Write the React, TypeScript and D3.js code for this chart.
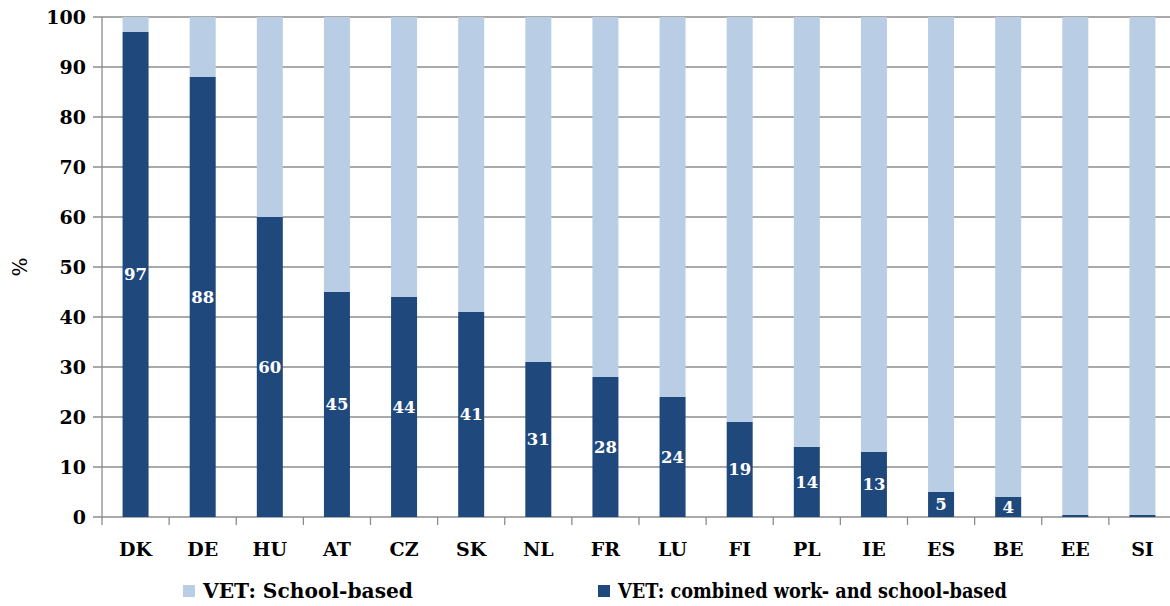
import React from "react";
import * as d3 from "d3";

const categories = ["DK", "DE", "HU", "AT", "CZ", "SK", "NL", "FR", "LU", "FI", "PL", "IE", "ES", "BE", "EE", "SI"];
const combinedValues = [97, 88, 60, 45, 44, 41, 31, 28, 24, 19, 14, 13, 5, 4, 0.4, 0.4];
const showLabel = [true, true, true, true, true, true, true, true, true, true, true, true, true, true, false, false];
const yTicks = [0, 10, 20, 30, 40, 50, 60, 70, 80, 90, 100];
const seriesNames = ["VET: School-based", "VET: combined work- and school-based"];

const W = 1170;
const H = 606;
const plotLeft = 102;
const plotRight = 1176;
const plotTop = 17;
const plotBottom = 517;
const dark = "#1F497D";
const light = "#B9CDE5";
const grid = "#8C8C8C";
const font = "'DejaVu Serif', 'Liberation Serif', serif";

export default function App() {
  const x = d3.scaleBand<string>().domain(categories).range([plotLeft, plotRight]).paddingInner(0).paddingOuter(0);
  const y = d3.scaleLinear().domain([0, 100]).range([plotBottom, plotTop]);
  const bandW = x.bandwidth();
  const barW = 26;
  return (
    <svg width={W} height={H} style={{ position: "absolute", left: 0, top: 0, background: "#fff" }}>
      {yTicks.map((t) => (
        <g key={t}>
          <line x1={93} x2={plotRight} y1={y(t)} y2={y(t)} stroke={grid} strokeWidth={1.3} />
          <text x={86} y={y(t)} dy="0.35em" textAnchor="end" fontFamily={font} fontWeight="bold" fontSize={19} fill="#000">
            {t}
          </text>
        </g>
      ))}
      <line x1={plotLeft} x2={plotLeft} y1={plotTop} y2={y(0) + 8} stroke={grid} strokeWidth={1.3} />
      {categories.map((c) => (
        <line key={"t" + c} x1={(x(c) as number) + bandW} x2={(x(c) as number) + bandW} y1={y(0)} y2={y(0) + 8} stroke={grid} strokeWidth={1.3} />
      ))}
      {categories.map((c, i) => {
        const cx = (x(c) as number) + bandW / 2;
        const v = combinedValues[i];
        return (
          <g key={c}>
            <rect x={cx - barW / 2} width={barW} y={y(100)} height={y(v) - y(100)} fill={light} />
            <rect x={cx - barW / 2} width={barW} y={y(v)} height={y(0) - y(v)} fill={dark} />
            {showLabel[i] && (
              <text x={cx} y={y(v / 2)} dy="0.36em" textAnchor="middle" fontFamily={font} fontWeight="bold" fontSize={16.5} fill="#fff">
                {v}
              </text>
            )}
            <text x={cx} y={556} textAnchor="middle" fontFamily={font} fontWeight="bold" fontSize={19} fill="#000">
              {c}
            </text>
          </g>
        );
      })}
      <text transform={`translate(27,${y(50)}) rotate(-90)`} textAnchor="middle" fontFamily={font} fontSize={20} fill="#000">
        %
      </text>
      <rect x={183} y={585} width={12} height={12} fill={light} />
      <text x={203} y={598} fontFamily={font} fontWeight="bold" fontSize={20} fill="#000" textLength={210} lengthAdjust="spacingAndGlyphs">
        {seriesNames[0]}
      </text>
      <rect x={598} y={585} width={12} height={12} fill={dark} />
      <text x={618} y={598} fontFamily={font} fontWeight="bold" fontSize={20} fill="#000" textLength={389} lengthAdjust="spacingAndGlyphs">
        {seriesNames[1]}
      </text>
    </svg>
  );
}
